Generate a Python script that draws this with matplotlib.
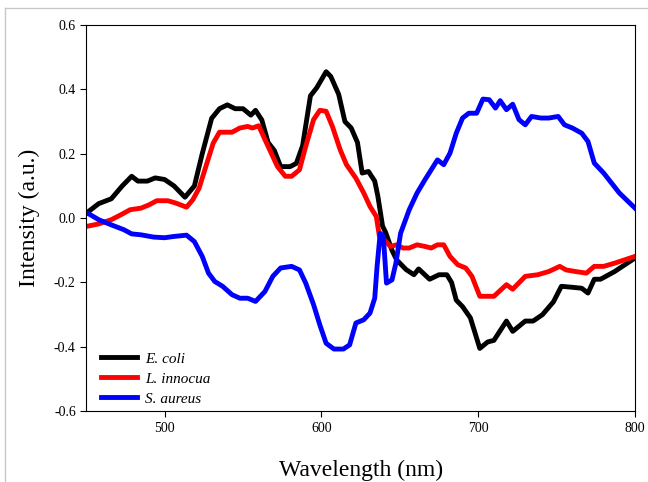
import matplotlib
matplotlib.use("Agg")
import matplotlib.pyplot as plt
from matplotlib.lines import Line2D

# wavelength (nm) / intensity (a.u.)
ecoli_x = [450, 458, 466, 473, 479, 483, 489, 494, 500, 506, 513, 519, 524, 530, 535, 540,
           545, 550, 555, 558, 562, 566, 570, 574, 580, 584, 588, 593, 597, 603, 606, 611,
           615, 619, 623, 626, 630, 634, 636, 639, 641, 645, 648, 654, 659, 662, 669, 675,
           680, 683, 686, 690, 695, 701, 706, 710, 718, 722, 730, 735, 741, 748, 753, 760,
           766, 770, 774, 778, 787, 800]
ecoli_y = [0.015, 0.045, 0.06, 0.10, 0.13, 0.115, 0.115, 0.125, 0.12, 0.10, 0.065, 0.10,
           0.20, 0.31, 0.34, 0.352, 0.34, 0.34, 0.32, 0.335, 0.305, 0.235, 0.21, 0.16, 0.16,
           0.17, 0.225, 0.38, 0.405, 0.455, 0.44, 0.385, 0.30, 0.28, 0.235, 0.14, 0.145,
           0.115, 0.068, -0.025, -0.045, -0.10, -0.13, -0.16, -0.176, -0.158, -0.19, -0.176,
           -0.176, -0.20, -0.255, -0.275, -0.31, -0.405, -0.385, -0.38, -0.32, -0.352, -0.32,
           -0.32, -0.30, -0.26, -0.212, -0.215, -0.218, -0.233, -0.19, -0.19, -0.166, -0.124]

linn_x = [450, 458, 466, 472, 478, 485, 490, 495, 502, 507, 514, 518, 522, 527, 531, 535,
          543, 548, 553, 556, 560, 564, 568, 572, 577, 581, 586, 590, 595, 599, 603, 607,
          612, 616, 622, 627, 631, 635, 637, 640, 644, 648, 652, 656, 661, 666, 670, 674,
          678, 682, 687, 692, 696, 701, 710, 718, 722, 730, 738, 745, 752, 756, 762, 769,
          774, 780, 787, 800]
linn_y = [-0.026, -0.018, -0.005, 0.01, 0.026, 0.031, 0.041, 0.054, 0.054, 0.047, 0.034,
          0.057, 0.093, 0.171, 0.233, 0.267, 0.267, 0.28, 0.285, 0.28, 0.287, 0.244, 0.202,
          0.16, 0.13, 0.13, 0.15, 0.223, 0.306, 0.335, 0.332, 0.285, 0.212, 0.166, 0.124,
          0.078, 0.036, 0.005, -0.057, -0.067, -0.088, -0.083, -0.093, -0.093, -0.083,
          -0.088, -0.093, -0.083, -0.083, -0.119, -0.145, -0.155, -0.181, -0.243, -0.243,
          -0.207, -0.221, -0.181, -0.176, -0.166, -0.15, -0.161, -0.166, -0.171, -0.15,
          -0.15, -0.14, -0.119]

saur_x = [450, 458, 466, 474, 479, 485, 493, 500, 506, 514, 519, 524, 528, 532, 537, 543,
          548, 553, 558, 564, 569, 574, 581, 586, 590, 595, 599, 603, 608, 614, 618, 622,
          627, 631, 634, 635.5, 637.5, 639.5, 641.5, 645, 647.5, 650.5, 656, 661, 666, 670,
          674, 678, 682, 686, 690, 694, 699, 703, 707, 711, 714, 718, 722, 726, 730, 734,
          740, 745, 751, 755, 760, 766, 770, 774, 780, 785, 790, 800]
saur_y = [0.018, -0.005, -0.021, -0.036, -0.049, -0.052, -0.059, -0.061, -0.057, -0.053,
          -0.073, -0.119, -0.171, -0.197, -0.212, -0.238, -0.249, -0.249, -0.259, -0.228,
          -0.181, -0.155, -0.15, -0.161, -0.202, -0.269, -0.332, -0.389, -0.407, -0.407,
          -0.394, -0.326, -0.316, -0.295, -0.249, -0.15, -0.047, -0.057, -0.202, -0.192,
          -0.14, -0.047, 0.026, 0.078, 0.119, 0.15, 0.181, 0.166, 0.202, 0.264, 0.311, 0.326,
          0.326, 0.37, 0.368, 0.342, 0.365, 0.337, 0.354, 0.306, 0.29, 0.316, 0.311, 0.311,
          0.316, 0.29, 0.28, 0.264, 0.238, 0.171, 0.14, 0.109, 0.078, 0.031]

plt.rcParams['font.family'] = ['Liberation Serif', 'DejaVu Serif']

fig = plt.figure(figsize=(6.48, 4.82), dpi=100)
ax = fig.add_axes([0.133, 0.147, 0.847, 0.801])

ax.plot(ecoli_x, ecoli_y, color='black', lw=3.5, label='E. coli')
ax.plot(linn_x, linn_y, color='red', lw=3.5, label='L. innocua')
ax.plot(saur_x, saur_y, color='blue', lw=3.5, label='S. aureus')

ax.set_xlim(450, 800)
ax.set_ylim(-0.6, 0.6)
ax.set_xticks([500, 600, 700, 800])
ax.set_yticks([-0.6, -0.4, -0.2, 0.0, 0.2, 0.4, 0.6])
ax.set_yticklabels(['-0.6', '-0.4', '-0.2', '0.0', '0.2', '0.4', '0.6'])
ax.tick_params(direction='out', length=4, labelsize=10, top=False, right=False)
ax.set_xlabel('Wavelength (nm)', fontsize=17, labelpad=18)
ax.set_ylabel('Intensity (a.u.)', fontsize=17, labelpad=10)

leg = ax.legend(loc='lower left', bbox_to_anchor=(0.015, -0.002), frameon=False,
                fontsize=11, handlelength=2.4, labelspacing=0.42, borderaxespad=0,
                handletextpad=0.5)
for t in leg.get_texts():
    t.set_fontstyle('italic')

# light frame of the original screenshot
fig.add_artist(Line2D([5 / 648, 1], [1 - 8 / 482, 1 - 8 / 482], color='#c8c8c8', lw=1))
fig.add_artist(Line2D([5 / 648, 5 / 648], [0, 1 - 8 / 482], color='#c8c8c8', lw=1))

fig.savefig('out.png', dpi=100)
